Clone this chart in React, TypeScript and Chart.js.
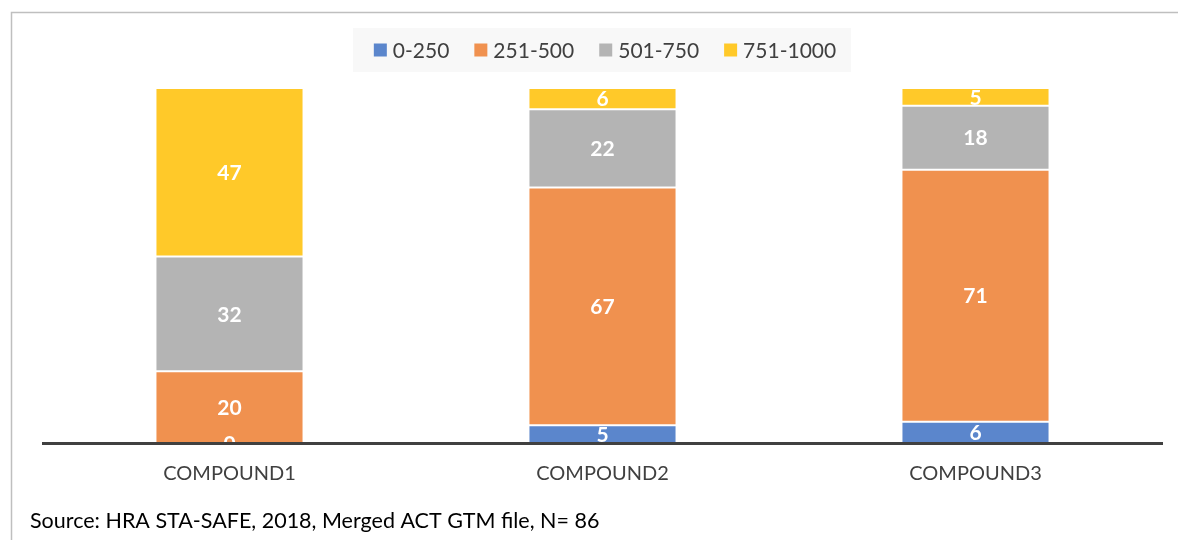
import React, { useEffect, useRef } from "react";
import { Chart, registerables } from "chart.js";

Chart.register(...registerables);

const categories = ["COMPOUND1", "COMPOUND2", "COMPOUND3"];
const seriesNames = ["0-250", "251-500", "501-750", "751-1000"];
const s0_250 = [0, 5, 6];
const s251_500 = [20, 67, 71];
const s501_750 = [32, 22, 18];
const s751_1000 = [47, 6, 5];
const seriesValues = [s0_250, s251_500, s501_750, s751_1000];
const seriesColors = ["#5B86CC", "#F0914F", "#B4B4B4", "#FFC929"];
const sourceText = "Source: HRA STA-SAFE, 2018, Merged ACT GTM file, N= 86";

const FONT = "Lato, 'Open Sans', sans-serif";

const totals = categories.map((_, i) => seriesValues.reduce((s, arr) => s + arr[i], 0));

const labelPlugin = {
  id: "barLabels",
  afterDatasetsDraw(chart: any) {
    const ctx = chart.ctx;
    ctx.save();
    ctx.fillStyle = "#ffffff";
    ctx.font = `bold 21px ${FONT}`;
    ctx.textAlign = "center";
    ctx.textBaseline = "middle";
    chart.data.datasets.forEach((ds: any, di: number) => {
      const meta = chart.getDatasetMeta(di);
      meta.data.forEach((el: any, i: number) => {
        const y = (el.y + el.base) / 2 + 1;
        ctx.fillText(String(ds.rawValues[i]), el.x, y);
      });
    });
    ctx.restore();
  },
};

const decorPlugin = {
  id: "decor",
  beforeDraw(chart: any) {
    const ctx = chart.ctx;
    ctx.save();
    // frame
    ctx.strokeStyle = "#BFBFBF";
    ctx.lineWidth = 1.5;
    ctx.beginPath();
    ctx.moveTo(11.5, chart.height);
    ctx.lineTo(11.5, 12.5);
    ctx.lineTo(chart.width, 12.5);
    ctx.stroke();
    // legend box
    ctx.fillStyle = "#F8F8F8";
    ctx.fillRect(353, 28, 498, 44);
    // legend items
    ctx.font = `21px ${FONT}`;
    ctx.textBaseline = "middle";
    ctx.textAlign = "left";
    const box = 13;
    const gapText = 6;
    const gapItem = 25;
    const widths = chart.data.datasets.map((ds: any) => box + gapText + ctx.measureText(ds.label).width);
    const total = widths.reduce((a: number, b: number) => a + b, 0) + gapItem * (widths.length - 1);
    let x = 605 - total / 2;
    const cy = 50;
    chart.data.datasets.forEach((ds: any, i: number) => {
      ctx.fillStyle = ds.backgroundColor;
      ctx.fillRect(x, cy - box / 2, box, box);
      ctx.fillStyle = "#404040";
      ctx.fillText(ds.label, x + box + gapText, cy + 1);
      x += widths[i] + gapItem;
    });
    // source
    ctx.fillStyle = "#000000";
    ctx.font = `21.5px ${FONT}`;
    ctx.fillText(sourceText, 30, 521);
    ctx.restore();
  },
};

export default function App() {
  const ref = useRef<HTMLCanvasElement>(null);
  useEffect(() => {
    document.body.style.margin = "0";
    const canvas = ref.current!;
    const chart = new Chart(canvas, {
      type: "bar",
      data: {
        labels: categories,
        datasets: seriesNames.map((name, si) => ({
          label: name,
          data: seriesValues[si].map((v, i) => (v / totals[i]) * 100),
          rawValues: seriesValues[si],
          backgroundColor: seriesColors[si],
          borderColor: "rgba(255,255,255,0.55)",
          borderWidth: 1,
          borderSkipped: false,
          barPercentage: 0.397,
          categoryPercentage: 1,
        })) as any,
      },
      options: {
        animation: false,
        responsive: false,
        maintainAspectRatio: false,
        layout: { padding: { left: 43, right: 16, top: 88, bottom: 0 } },
        plugins: {
          legend: { display: false },
          tooltip: { enabled: false },
          title: { display: false },
        },
        scales: {
          x: {
            stacked: true,
            grid: { display: false, drawTicks: false },
            border: { display: true, color: "#404040", width: 3, z: 1 },
            ticks: {
              color: "#404040",
              font: { family: FONT, size: 20 },
              padding: 19,
            },
            afterFit(scale: any) {
              scale.height = 97;
            },
          },
          y: {
            stacked: true,
            display: false,
            min: 0,
            max: 100,
          },
        },
      },
      plugins: [labelPlugin, decorPlugin],
    });
    return () => chart.destroy();
  }, []);
  return (
    <div style={{ width: 1178, height: 540 }}>
      <canvas ref={ref} width={1178} height={540} style={{ display: "block" }} />
    </div>
  );
}
